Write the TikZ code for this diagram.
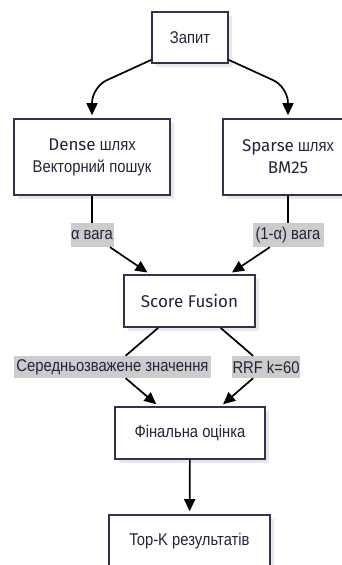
\documentclass[tikz,border=0pt]{standalone}
\usepackage{fontspec}
\setmainfont[FakeStretch=0.87]{Liberation Sans}
\newfontfamily\fira{Fira Sans}
\usetikzlibrary{arrows.meta,shadows}
\definecolor{boxline}{HTML}{33334F}
\definecolor{ink}{HTML}{23233A}
\definecolor{tagfill}{HTML}{CCCCCC}
\tikzset{
  x=1pt, y=-1pt,
  box/.style={draw=boxline, line width=1.6pt, fill=white, text=ink,
    inner sep=0pt, align=center, font=\fontsize{17}{22}\selectfont,
    drop shadow={shadow xshift=4pt, shadow yshift=-4pt, fill=black!9, opacity=1}},
  tag/.style={fill=tagfill, text=ink, inner sep=0pt,
    font=\fontsize{17}{18}\selectfont},
  link/.style={draw=black, line width=1.7pt},
  arr/.style={link, -{Triangle[width=11pt,length=12pt]}, shorten >=3pt},
}
\begin{document}
\begin{tikzpicture}
\useasboundingbox (0,0) rectangle (342,565);

% boxes
\node[box, minimum width=76pt, minimum height=51pt] (zapyt) at (190,37.5) {Запит};
\node[box, minimum width=156pt, minimum height=76pt] (dense) at (92,157)
  {{\fira Dense} шлях\\Векторний пошук};
\node[box, minimum width=130pt, minimum height=76pt] (sparse) at (288,157)
  {{\fira Sparse} шлях\\{\fira BM25}};
\node[box, minimum width=131pt, minimum height=52pt] (fusion) at (189.5,301)
  {\fira Score Fusion};
\node[box, minimum width=150pt, minimum height=52pt] (final) at (190,433)
  {Фінальна оцінка};
\node[box, minimum width=161pt, minimum height=52pt] (topk) at (189.5,541)
  {Top-K результатів};

% edge labels
\node[tag, minimum width=43pt, minimum height=24pt] (wdense) at (92,235) {α вага};
\node[tag, minimum width=71pt, minimum height=24pt] (wsparse) at (288,235) {(1-α) вага};
\node[tag, minimum width=197pt, minimum height=22pt] (wavg) at (112.5,367) {Середньозважене значення};
\node[tag, minimum width=68pt, minimum height=22pt] (wrrf) at (266,367) {RRF k=60};

% connectors
\draw[arr, rounded corners=16pt] (zapyt.210) -- (dense.north |- 0,87) -- (dense.north);
\draw[arr, rounded corners=16pt] (zapyt.330) -- (sparse.north |- 0,87) -- (sparse.north);
\draw[link] (dense) -- (wdense);
\draw[arr] (wdense) -- (fusion);
\draw[link] (sparse) -- (wsparse);
\draw[arr] (wsparse) -- (fusion);
\draw[link] (fusion) -- (wavg);
\draw[arr] (wavg) -- (final);
\draw[link] (fusion) -- (wrrf);
\draw[arr] (wrrf) -- (final);
\draw[arr] (final) -- (topk);
\end{tikzpicture}
\end{document}
